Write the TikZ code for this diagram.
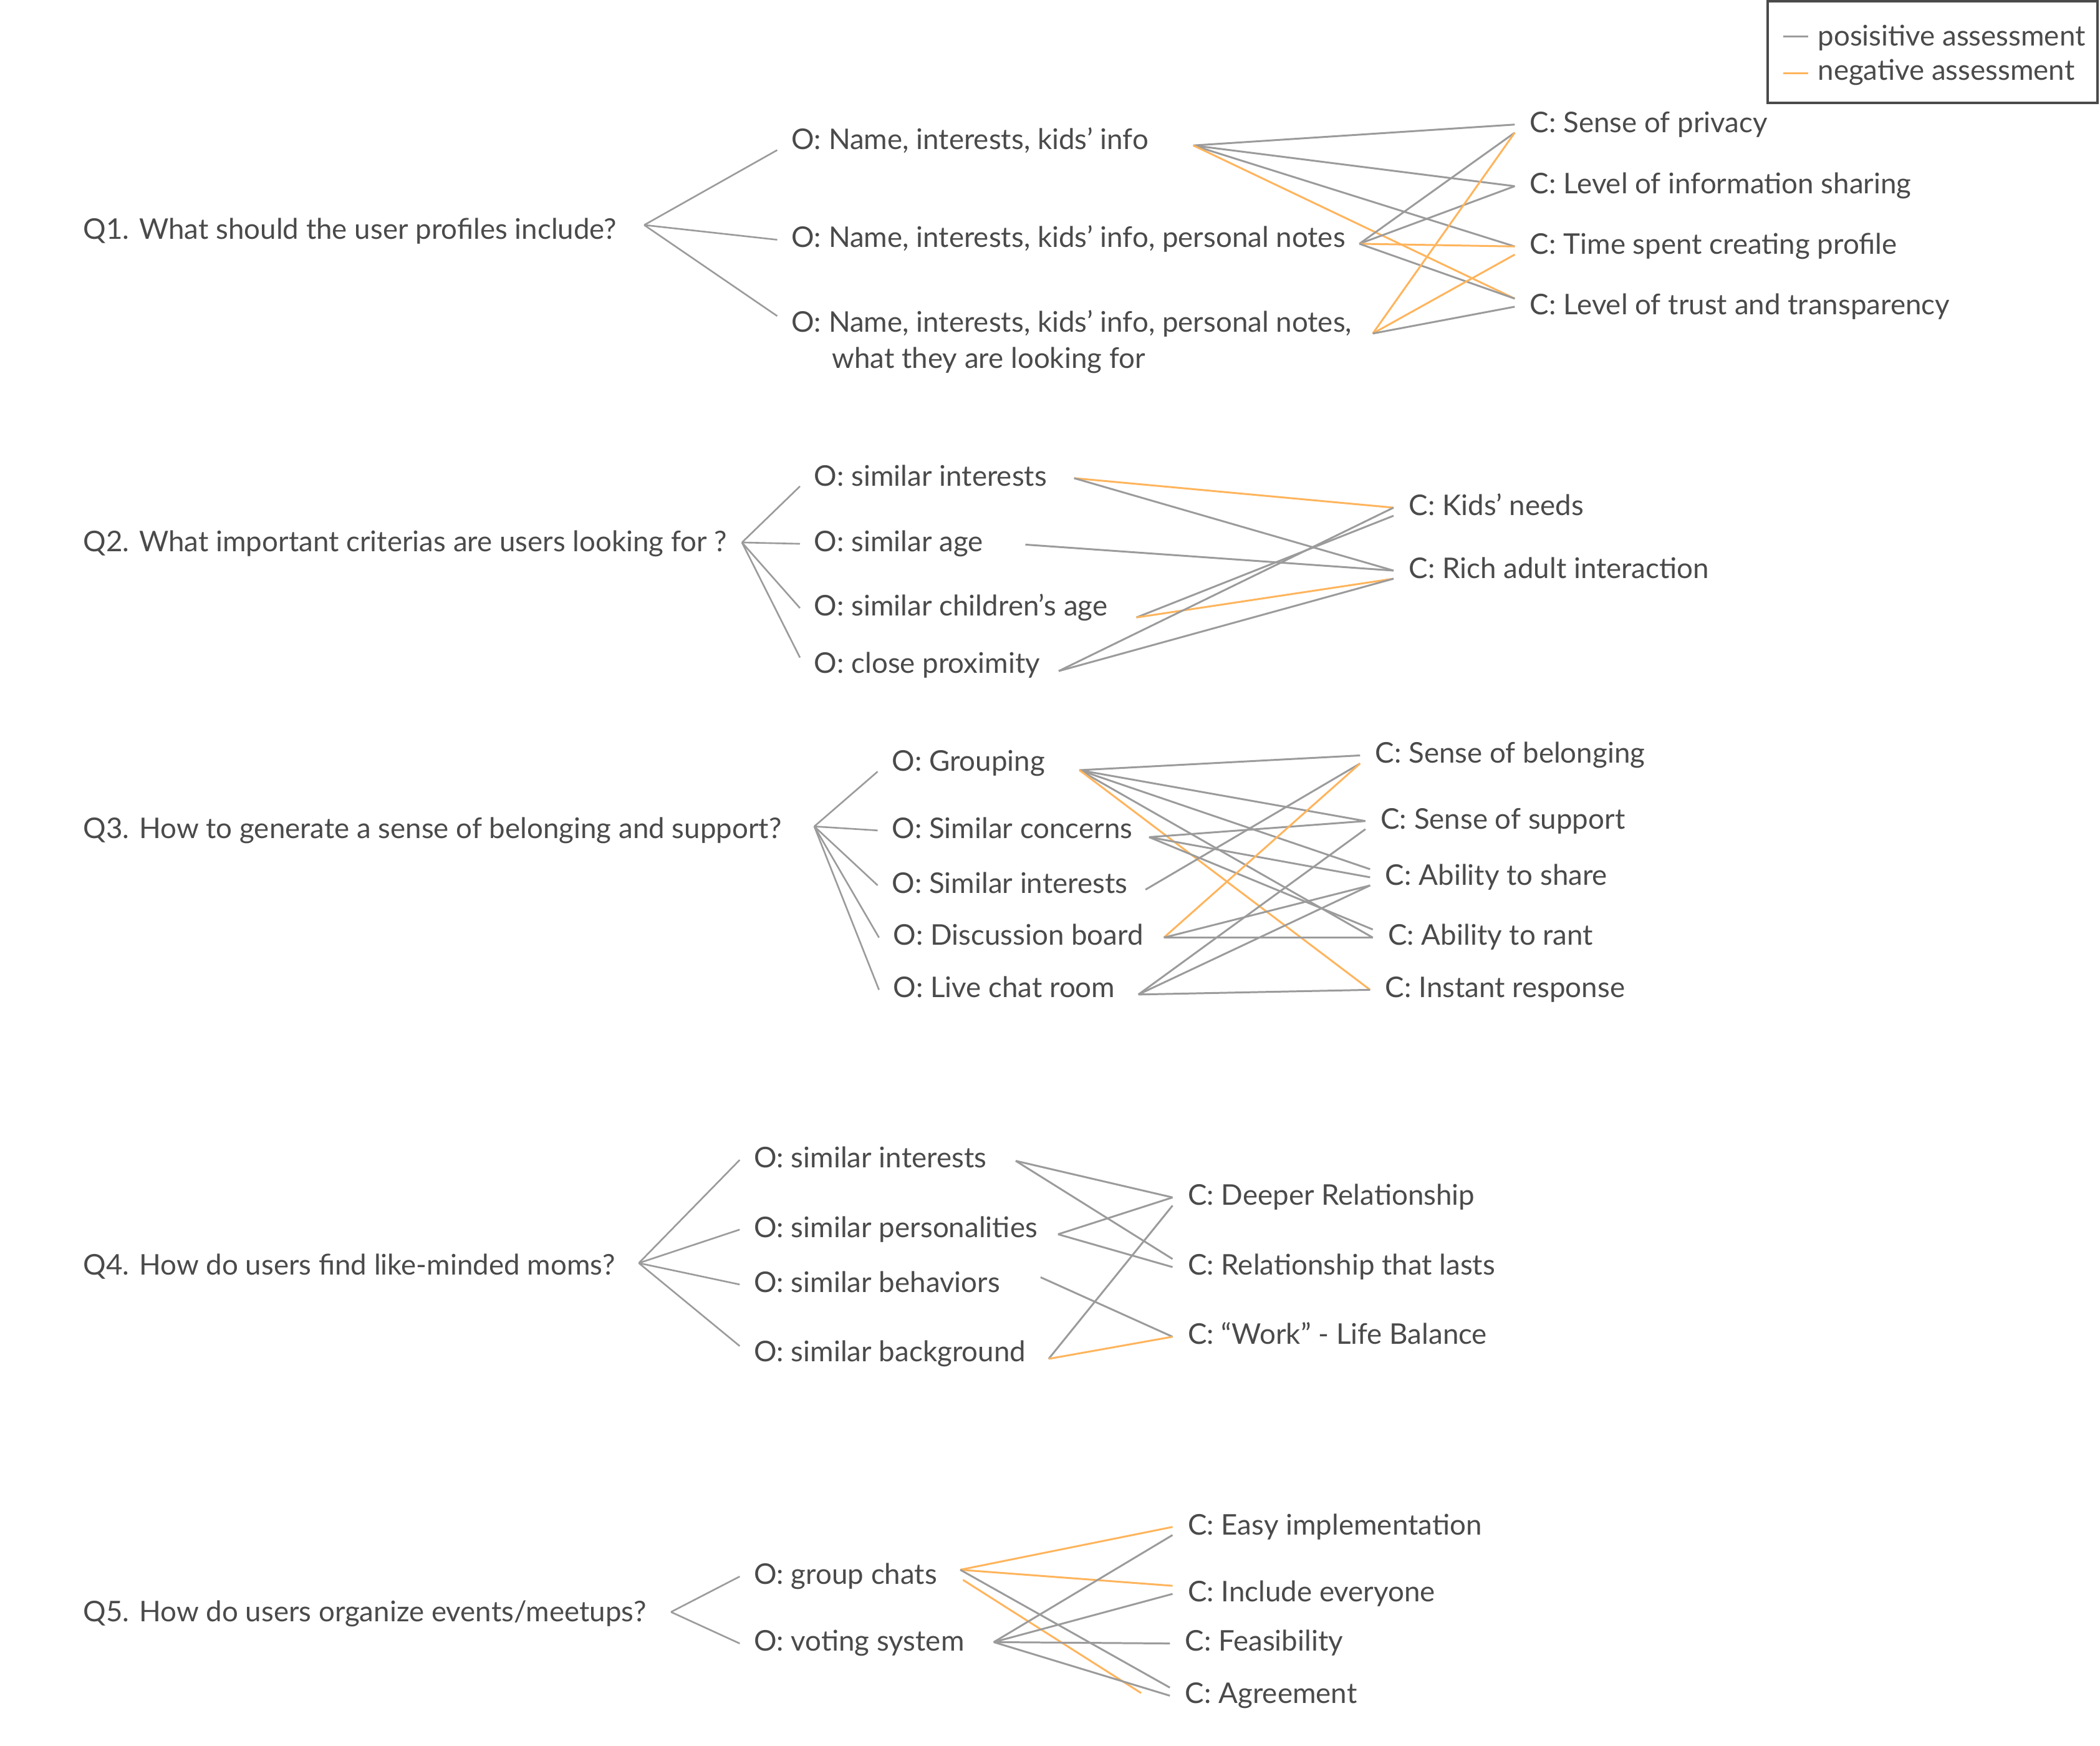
\documentclass[tikz,border=0pt]{standalone}
\usepackage{fontspec}
\setmainfont{Lato}
\usepackage{tikz}
\definecolor{txtgray}{HTML}{4A4A4A}
\definecolor{posgray}{HTML}{9B9B9B}
\definecolor{neggold}{HTML}{FFB45C}

\begin{document}
\begin{tikzpicture}[x=0.02148cm,y=-0.02148cm,font=\fontsize{13}{15}\selectfont,
	base node/.style={inner sep=0pt,text height=0.7em,text depth=0pt,text=txtgray,anchor=west},
	o node/.style={base node,outer xsep=6.5pt},
	c node/.style={base node,outer xsep=7pt},
	tree/.style={draw=posgray,line width=0.75pt},
	good/.style={draw=posgray,line width=0.85pt},
	bad/.style={draw=neggold,line width=0.85pt}]

	\path[fill=white] (0,0) rectangle (1568,1303.5);
	\useasboundingbox (0,0) rectangle (1568,1303.5);

	% legend
	\draw[txtgray,line width=1.1pt] (1320,1) rectangle (1566,77);
	\draw[good] (1331.5,27.2) -- (1350,27.2);
	\draw[bad] (1331.5,54.6) -- (1350,54.6);
	\node[base node] (lgood) at (1357,28.3) {posisitive assessment};
	\node[base node] (lbad) at (1357,54) {negative assessment};

	% Q1
	\node[base node] (q1) at (62,173) {Q1. What should the user profiles include?};
	\coordinate (q1r) at (481,168);
	\node[o node] (o11) at (580.3,106) {O: Name, interests, kids’ info};
	\node[o node] (o12) at (580.3,179) {O: Name, interests, kids’ info, personal notes};
	\node[o node] (o13) at (580.3,242) {O: Name, interests, kids’ info, personal notes,};
	\node[base node] (o13w) at (621,269) {what they are looking for};
	\coordinate (o11e) at (891,108.6);
	\coordinate (o12e) at (1015,182);
	\coordinate (o13e) at (1025,249);
	\node[c node] (c11) at (1131,93) {C: Sense of privacy};
	\node[c node] (c12) at (1131,139) {C: Level of information sharing};
	\node[c node] (c13) at (1131,184) {C: Time spent creating profile};
	\node[c node] (c14) at (1131,229) {C: Level of trust and transparency};
	\path (q1r) edge[tree] (o11.south west) edge[tree] (o12.west) edge[tree] (o13.north west);
	\path (o11e) edge[good] (c11.west) edge[good] (c12.west) edge[good] (c13.west)
	      edge[bad] (c14.north west)
	(o12e) edge[good] (c11.south west) edge[good] (c12.west) edge[bad] (c13.west)
	      edge[good] (c14.north west)
	(o13e) edge[bad] (c11.south west) edge[bad] (c13.south west) edge[good] (c14.west);

	% Q2
	\node[base node] (q2) at (62,406) {Q2. What important criterias are users looking for ?};
	\coordinate (q2r) at (554,405);
	\node[o node] (o21) at (597.3,357) {O: similar interests};
	\node[o node] (o22) at (597.3,406) {O: similar age};
	\node[o node] (o23) at (597.3,454) {O: similar children’s age};
	\node[o node] (o24) at (597.3,497) {O: close proximity};
	\coordinate (o21e) at (802,357);
	\coordinate (o22e) at (765.6,406.6);
	\coordinate (o23e) at (848.5,461);
	\coordinate (o24e) at (790.5,501);
	\node[c node] (c21) at (1040.5,379) {C: Kids’ needs};
	\node[c node] (c22) at (1040.5,426) {C: Rich adult interaction};
	\path (q2r) edge[tree] (o21.south west) edge[tree] (o22.west) edge[tree] (o23.west)
	      edge[tree] (o24.north west);
	\path (o21e) edge[bad] (c21.west) edge[good] (c22.west)
	(o22e) edge[good] (c22.west)
	(o23e) edge[good] (c21.south west) edge[bad] (c22.south west)
	(o24e) edge[good] (c21.west) edge[good] (c22.south west);

	% Q3
	\node[base node] (q3) at (62,620) {Q3. How to generate a sense of belonging and support?};
	\coordinate (q3r) at (608,617);
	\node[o node] (o31) at (655.3,570) {O: Grouping};
	\node[o node] (o32) at (655.3,620) {O: Similar concerns};
	\node[o node] (o33) at (655.3,661) {O: Similar interests};
	\node[o node] (o34) at (656.3,700) {O: Discussion board};
	\node[o node] (o35) at (656.3,739) {O: Live chat room};
	\coordinate (o31e) at (806,575);
	\coordinate (o32e) at (858,625);
	\coordinate (o33e) at (855.3,664.2);
	\coordinate (o34e) at (869,700);
	\coordinate (o35e) at (850,742.5);
	\node[c node] (c31) at (1015.5,564) {C: Sense of belonging};
	\node[c node] (c32) at (1019.5,613) {C: Sense of support};
	\node[c node] (c33) at (1023,655) {C: Ability to share};
	\node[c node] (c34) at (1025,700) {C: Ability to rant};
	\node[c node] (c35) at (1023,739) {C: Instant response};
	\path (q3r) edge[tree] (o31.south west) edge[tree] (o32.west) edge[tree] (o33.west)
	      edge[tree] (o34.west) edge[tree] (o35.west);
	\path (o31e) edge[good] (c31.west) edge[good] (c32.west) edge[good] (c33.north west)
	      edge[good] (c34.west) edge[bad] (c35.west)
	(o32e) edge[good] (c32.west) edge[good] (c33.west) edge[good] (c34.north west)
	(o33e) edge[good] (c31.south west)
	(o34e) edge[bad] (c31.south west) edge[good] (c33.south west) edge[good] (c34.west)
	(o35e) edge[good] (c32.south west) edge[good] (c33.south west) edge[good] (c35.west);

	% Q4
	\node[base node] (q4) at (62,946) {Q4. How do users find like-minded moms?};
	\coordinate (q4r) at (477,943);
	\node[o node] (o41) at (552.3,866) {O: similar interests};
	\node[o node] (o42) at (552.3,918) {O: similar personalities};
	\node[o node] (o43) at (552.3,959) {O: similar behaviors};
	\node[o node] (o44) at (552.3,1011) {O: similar background};
	\coordinate (o41e) at (758.4,866.7);
	\coordinate (o42e) at (790,921.5);
	\coordinate (o43e) at (777,953.6);
	\coordinate (o44e) at (783,1014.5);
	\node[c node] (c41) at (875.5,894) {C: Deeper Relationship};
	\node[c node] (c42) at (875.5,946) {C: Relationship that lasts};
	\node[c node] (c43) at (875.5,998) {C: “Work” - Life Balance};
	\path (q4r) edge[tree] (o41.west) edge[tree] (o42.west) edge[tree] (o43.west)
	      edge[tree] (o44.north west);
	\path (o41e) edge[good] (c41.west) edge[good] (c42.north west)
	(o42e) edge[good] (c41.west) edge[good] (c42.west)
	(o43e) edge[good] (c43.west)
	(o44e) edge[good] (c41.south west) edge[bad] (c43.west);

	% Q5
	\node[base node] (q5) at (62,1205) {Q5. How do users organize events/meetups?};
	\coordinate (q5r) at (501,1203.5);
	\node[o node] (o51) at (552.3,1177) {O: group chats};
	\node[o node] (o52) at (552.3,1227) {O: voting system};
	\coordinate (o51e) at (717,1172);
	\coordinate (o51s) at (719,1179.5);
	\coordinate (o52e) at (742,1226);
	\coordinate (c54x) at (852,1264);
	\node[c node] (c51) at (875.5,1140) {C: Easy implementation};
	\node[c node] (c52) at (875.5,1190) {C: Include everyone};
	\node[c node] (c53) at (873.5,1227) {C: Feasibility};
	\node[c node] (c54) at (873.5,1266) {C: Agreement};
	\path (q5r) edge[tree] (o51.west) edge[tree] (o52.west);
	\path (o51e) edge[bad] (c51.west) edge[bad] (c52.north west) edge[good] (c54.north west)
	(o51s) edge[bad] (c54x)
	(o52e) edge[good] (c51.south west) edge[good] (c52.west) edge[good] (c53.west)
	      edge[good] (c54.west);
\end{tikzpicture}
\end{document}
